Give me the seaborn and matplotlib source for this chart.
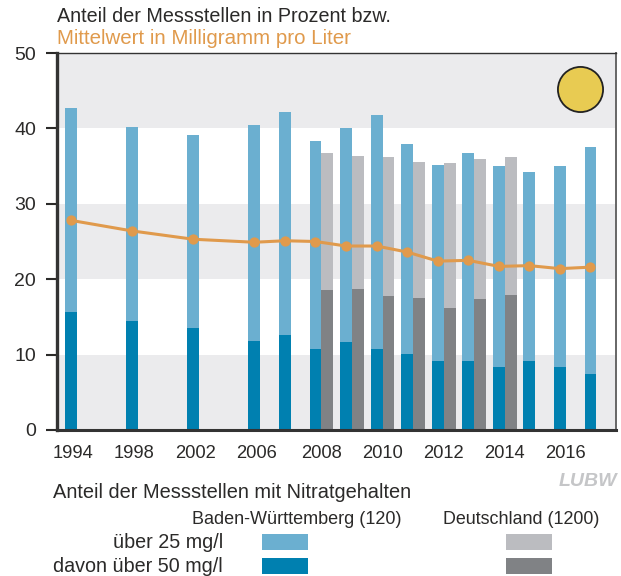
import matplotlib
matplotlib.use('Agg')
import matplotlib.pyplot as plt
from matplotlib.patches import Rectangle
import seaborn as sns
import pandas as pd

years = [1994, 1998, 2002, 2006, 2007, 2008, 2009, 2010, 2011, 2012, 2013, 2014, 2015, 2016, 2017]
slots = [0, 2, 4, 6, 7, 8, 9, 10, 11, 12, 13, 14, 15, 16, 17]
bw_25 = [42.7, 40.2, 39.1, 40.45, 42.2, 38.3, 40.05, 41.8, 37.9, 35.1, 36.7, 35.0, 34.2, 35.0, 37.5]
bw_50 = [15.7, 14.5, 13.5, 11.8, 12.6, 10.75, 11.65, 10.75, 10.1, 9.15, 9.15, 8.35, 9.15, 8.35, 7.45]
de_years = [2008, 2009, 2010, 2011, 2012, 2013, 2014]
de_25 = [36.7, 36.3, 36.2, 35.5, 35.4, 35.9, 36.2]
de_50 = [18.55, 18.7, 17.75, 17.5, 16.2, 17.35, 17.9]
mean_mg = [27.8, 26.4, 25.3, 24.9, 25.1, 25.0, 24.4, 24.4, 23.6, 22.4, 22.5, 21.7, 21.8, 21.4, 21.6]
tick_years = [1994, 1998, 2002, 2006, 2008, 2010, 2012, 2014, 2016]

LIGHT_BLUE = '#6bafd0'
DARK_BLUE = '#0080b0'
LIGHT_GREY = '#bbbcc0'
DARK_GREY = '#808285'
ORANGE = '#e09a4c'
TEXT = '#2b2a29'
BAND = '#ebebed'

W, H = 621, 576

sns.set_theme(style='white')
plt.rcParams['font.family'] = ['Liberation Sans', 'DejaVu Sans']

slot_of = dict(zip(years, slots))
rows = []
for y, a, b in zip(years, bw_25, bw_50):
    rows.append({'slot': slot_of[y], 'region': 'BW', 'over25': a, 'over50': b})
for y, a, b in zip(de_years, de_25, de_50):
    rows.append({'slot': slot_of[y], 'region': 'DE', 'over25': a, 'over50': b})
df = pd.DataFrame(rows)

fig = plt.figure(figsize=(W / 100, H / 100), dpi=100)
ax = fig.add_axes([57 / W, (H - 430) / H, (616 - 57) / W, (430 - 53) / H])

for lo in [0, 20, 40]:
    ax.axhspan(lo, lo + 10, color=BAND, lw=0, zorder=0)

order = list(range(18))
sns.barplot(data=df, x='slot', y='over25', hue='region', order=order, hue_order=['BW', 'DE'],
            palette={'BW': LIGHT_BLUE, 'DE': LIGHT_GREY}, width=0.78, gap=0, legend=False,
            saturation=1, errorbar=None, linewidth=0, ax=ax, zorder=2)
sns.barplot(data=df, x='slot', y='over50', hue='region', order=order, hue_order=['BW', 'DE'],
            palette={'BW': DARK_BLUE, 'DE': DARK_GREY}, width=0.78, gap=0, legend=False,
            saturation=1, errorbar=None, linewidth=0, ax=ax, zorder=3)

line_x = [s - 0.195 for s in slots]
sns.lineplot(x=line_x, y=mean_mg, color=ORANGE, lw=2.2, marker='o', markersize=7.4,
             markeredgewidth=0, ax=ax, zorder=4)

# sun symbol top right
ax.plot([16.45], [45.2], marker='o', markersize=32.5, markerfacecolor='#e8cb52',
        markeredgecolor='#222222', markeredgewidth=1.3, zorder=5)

ax.set_xlim(-0.655, 17.64)
ax.set_ylim(0, 50)
ax.set_xlabel('')
ax.set_ylabel('')
ax.set_yticks([0, 10, 20, 30, 40, 50])
tick_pos = [slot_of[y] - (0.13 if y < 2008 else 0) for y in tick_years]
ax.set_xticks(tick_pos)
ax.set_xticklabels([str(y) for y in tick_years])
ax.tick_params(axis='y', length=8, width=1.5, color=TEXT, labelsize=14, labelcolor=TEXT, pad=7, left=True)
ax.tick_params(axis='x', length=0, labelsize=13.2, labelcolor=TEXT, pad=11)

for side, col, lw in [('left', '#333333', 2.4), ('bottom', '#333333', 2.2),
                      ('top', '#333333', 1.0), ('right', '#666666', 1.4)]:
    ax.spines[side].set_visible(True)
    ax.spines[side].set_color(col)
    ax.spines[side].set_linewidth(lw)
    ax.spines[side].set_zorder(6)


def label(px, py, s, color=TEXT, size=13, ha='left', **kw):
    fig.text(px / W, 1 - py / H, s, color=color, fontsize=size, ha=ha, va='center', **kw)


def swatch(x0, y0, x1, y1, color):
    fig.add_artist(Rectangle((x0 / W, 1 - y1 / H), (x1 - x0) / W, (y1 - y0) / H,
                             transform=fig.transFigure, color=color, lw=0))


label(57, 17, 'Anteil der Messstellen in Prozent bzw.', size=14.2)
label(57, 39, 'Mittelwert in Milligramm pro Liter', color=ORANGE, size=14.8)
label(53, 493, 'Anteil der Messstellen mit Nitratgehalten', size=14.4)
label(192, 519, 'Baden-Württemberg (120)', size=13)
label(443, 519, 'Deutschland (1200)', size=12.9)
label(223, 542, 'über 25 mg/l', size=14.2, ha='right')
label(223, 566, 'davon über 50 mg/l', size=14.2, ha='right')
label(617, 482, 'LUBW', color='#c5c6c8', size=14, ha='right', fontweight='bold', style='italic')

swatch(262, 534, 308, 550, LIGHT_BLUE)
swatch(262, 558, 308, 574, DARK_BLUE)
swatch(506, 534, 552, 550, LIGHT_GREY)
swatch(506, 558, 552, 574, DARK_GREY)

fig.savefig('out.png', dpi=100)
